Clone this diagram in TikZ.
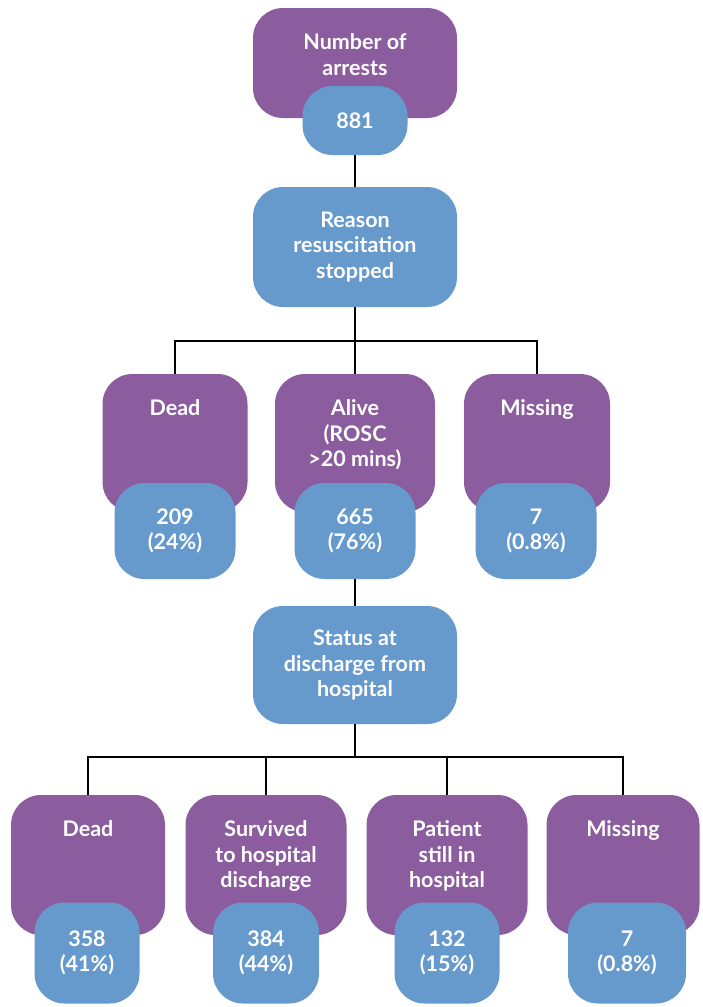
\documentclass[tikz,border=0pt]{standalone}
\usepackage{fontspec}
\setmainfont{Lato}
\usepackage{tikz}
\usetikzlibrary{positioning}
\definecolor{boxpurple}{RGB}{139,92,158}
\definecolor{boxblue}{RGB}{102,153,204}

\begin{document}
\begin{tikzpicture}[x=1pt, y=-1pt,
  txt/.style={text=white, font=\bfseries\fontsize{21.5}{25.5}\selectfont, align=center, inner sep=0pt},
  catbox/.style={fill=boxpurple, rounded corners=30pt, inner sep=0pt},
  numbox/.style={fill=boxblue, rounded corners=30pt, txt},
  link/.style={draw=black, line width=1.2pt}]
  \useasboundingbox (0,0) rectangle (702,1007);

  % Top
  \node[catbox, minimum width=204pt, minimum height=110pt] (arrests) at (355,63) {};
  \node[txt, below=26pt of arrests.north] (arreststxt) {Number of\\arrests};
  \node[numbox, minimum width=105pt, minimum height=69pt] (arrestsn) at (355,120.5) {881};
  \node[numbox, minimum width=204pt, minimum height=120pt] (reason) at (355,247) {Reason\\resuscitation\\stopped};

  % Reason resuscitation stopped
  \node[catbox, minimum width=145pt, minimum height=138pt] (dead) at (175,443) {};
  \node[catbox, minimum width=160pt, minimum height=138pt] (alive) at (355,443) {};
  \node[catbox, minimum width=146pt, minimum height=138pt] (miss) at (537,443) {};
  \node[txt, below=26pt of dead.north]  (deadtxt)  {Dead};
  \node[txt, below=26pt of alive.north] (alivetxt) {Alive\\(ROSC\\>20 mins)};
  \node[txt, below=26pt of miss.north]  (misstxt)  {Missing};
  \node[numbox, minimum width=121pt, minimum height=96pt] (deadn)  at (175,531) {209\\(24\%)};
  \node[numbox, minimum width=121pt, minimum height=96pt] (aliven) at (355,531) {665\\(76\%)};
  \node[numbox, minimum width=121pt, minimum height=96pt] (missn)  at (536,531) {7\\(0.8\%)};

  % Status at discharge
  \node[numbox, minimum width=204pt, minimum height=118pt] (status) at (355,665) {Status at\\discharge from\\hospital};
  \node[catbox, minimum width=154pt, minimum height=140pt] (ddead) at (88,865) {};
  \node[catbox, minimum width=161pt, minimum height=140pt] (surv)  at (266,865) {};
  \node[catbox, minimum width=161pt, minimum height=140pt] (still) at (447,865) {};
  \node[catbox, minimum width=153pt, minimum height=140pt] (dmiss) at (623,865) {};
  \node[txt, below=26pt of ddead.north] (ddeadtxt) {Dead};
  \node[txt, below=26pt of surv.north]  (survtxt)  {Survived\\to hospital\\discharge};
  \node[txt, below=26pt of still.north] (stilltxt) {Patient\\still in\\hospital};
  \node[txt, below=26pt of dmiss.north] (dmisstxt) {Missing};
  \node[numbox, minimum width=105pt, minimum height=101pt] (ddeadn) at (87,953)  {358\\(41\%)};
  \node[numbox, minimum width=106pt, minimum height=101pt] (survn)  at (266,953) {384\\(44\%)};
  \node[numbox, minimum width=105pt, minimum height=101pt] (stilln) at (447,953) {132\\(15\%)};
  \node[numbox, minimum width=118pt, minimum height=101pt] (dmissn) at (627,953) {7\\(0.8\%)};

  % Connectors
  \coordinate (j1) at (355,341);
  \coordinate (j2) at (355,757);
  \draw[link] (arrestsn.south) -- (reason.north);
  \draw[link] (reason.south) -- (j1);
  \draw[link] (j1) -| (dead.north);
  \draw[link] (j1) -- (alive.north);
  \draw[link] (j1) -| (miss.north);
  \draw[link] (aliven.south) -- (status.north);
  \draw[link] (status.south) -- (j2);
  \draw[link] (j2) -| (ddead.north);
  \draw[link] (j2) -| (surv.north);
  \draw[link] (j2) -| (still.north);
  \draw[link] (j2) -| (dmiss.north);
\end{tikzpicture}
\end{document}
